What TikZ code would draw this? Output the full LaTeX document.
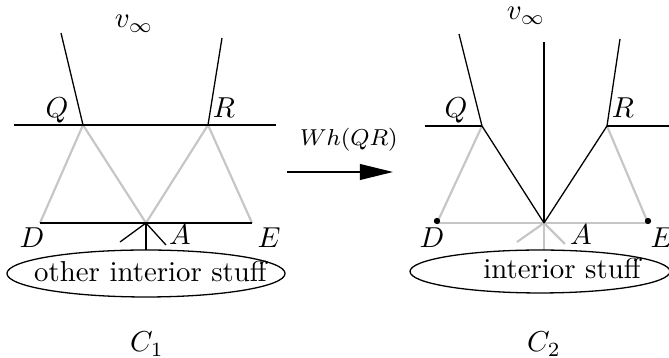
\documentclass[tikz,border=0pt]{standalone}
\usetikzlibrary{arrows.meta,shapes.geometric}
\begin{document}
\begin{tikzpicture}[x=0.347pt,y=-0.347pt,
  blk/.style={black,line width=0.45pt},
  gry/.style={gray!45,line width=0.75pt},
  lbl/.style={inner sep=0pt,anchor=base},
  blob/.style={draw,ellipse,inner sep=0pt,line width=0.45pt},
  pt/.style={circle,fill=black,inner sep=0pt,minimum size=2.2pt}]
\useasboundingbox (0,0) rectangle (669,358);
% ---------- left: C1 ----------
\coordinate (Q1) at (83,125);
\coordinate (R1) at (208,125);
\coordinate (D1) at (40,223);
\coordinate (E1) at (252,223);
\coordinate (A1) at (146,223);
\coordinate (HL1) at (14,125);
\coordinate (HR1) at (276,125);
\coordinate (QU1) at (61,33);
\coordinate (RU1) at (222,38);
\coordinate (Al1) at (120,242);
\coordinate (Ar1) at (166,245);
\coordinate (Ad1) at (146,250);
\draw[gry] (D1) -- (Q1) -- (A1) -- (R1) -- (E1);
\draw[blk] (HL1) -- (HR1);
\draw[blk] (QU1) -- (Q1);
\draw[blk] (RU1) -- (R1);
\draw[blk] (D1) -- (E1);
\draw[blk] (Al1) -- (A1) -- (Ar1);
\draw[blk] (A1) -- (Ad1);
\node[blob,minimum width=96.5pt,minimum height=16.3pt] (S1) at (146,273.5) {};
\node[lbl] (S1t) at (150.5,282) {other interior stuff};
\node[lbl] (vinf1) at (134,28) {$v_\infty$};
\node[lbl] (Ql1) at (57,118) {$Q$};
\node[lbl] (Rl1) at (224,118) {$R$};
\node[lbl] (Dl1) at (32,248) {$D$};
\node[lbl] (El1) at (269,248) {$E$};
\node[lbl] (Al1t) at (180,245) {$A$};
\node[lbl] (C1) at (147,352) {$C_1$};
% ---------- arrow ----------
\coordinate (AS) at (287,172);
\coordinate (AE) at (393,172);
\draw[blk,-{Triangle[length=11.5pt,width=5.5pt]}] (AS) -- (AE);
\node[inner sep=0pt] (wh) at (349,140) {\footnotesize $Wh(QR)$};
% ---------- right: C2 ----------
\coordinate (Q2) at (482,126);
\coordinate (R2) at (607,126);
\coordinate (D2) at (437,223);
\coordinate (E2) at (648,223);
\coordinate (A2) at (544,223);
\coordinate (HL2) at (425,126);
\coordinate (HR2) at (669,126);
\coordinate (QU2) at (459,34);
\coordinate (RU2) at (620,39);
\coordinate (V2) at (544,42);
\coordinate (Al2) at (517,242);
\coordinate (Ar2) at (565,244);
\coordinate (Ad2) at (544,250);
\draw[gry] (D2) -- (Q2);
\draw[gry] (E2) -- (R2);
\draw[gry] (D2) -- (E2);
\draw[gry] (Al2) -- (A2) -- (Ar2);
\draw[gry] (A2) -- (Ad2);
\draw[blk] (HL2) -- (Q2);
\draw[blk] (R2) -- (HR2);
\draw[blk] (QU2) -- (Q2) -- (A2);
\draw[blk] (RU2) -- (R2) -- (A2);
\draw[blk] (V2) -- (A2);
\node[pt] (Dd2) at (437,221) {};
\node[pt] (Ed2) at (648,221) {};
\node[blob,minimum width=90.2pt,minimum height=14.9pt] (S2) at (540,271.5) {};
\node[lbl] (S2t) at (562,279) {interior stuff};
\node[lbl] (vinf2) at (526,20) {$v_\infty$};
\node[lbl] (Ql2) at (456,118) {$Q$};
\node[lbl] (Rl2) at (623,118) {$R$};
\node[lbl] (Dl2) at (432,248) {$D$};
\node[lbl] (El2) at (662,248) {$E$};
\node[lbl] (Al2t) at (581,245) {$A$};
\node[lbl] (C2) at (544,352) {$C_2$};
\end{tikzpicture}
\end{document}
